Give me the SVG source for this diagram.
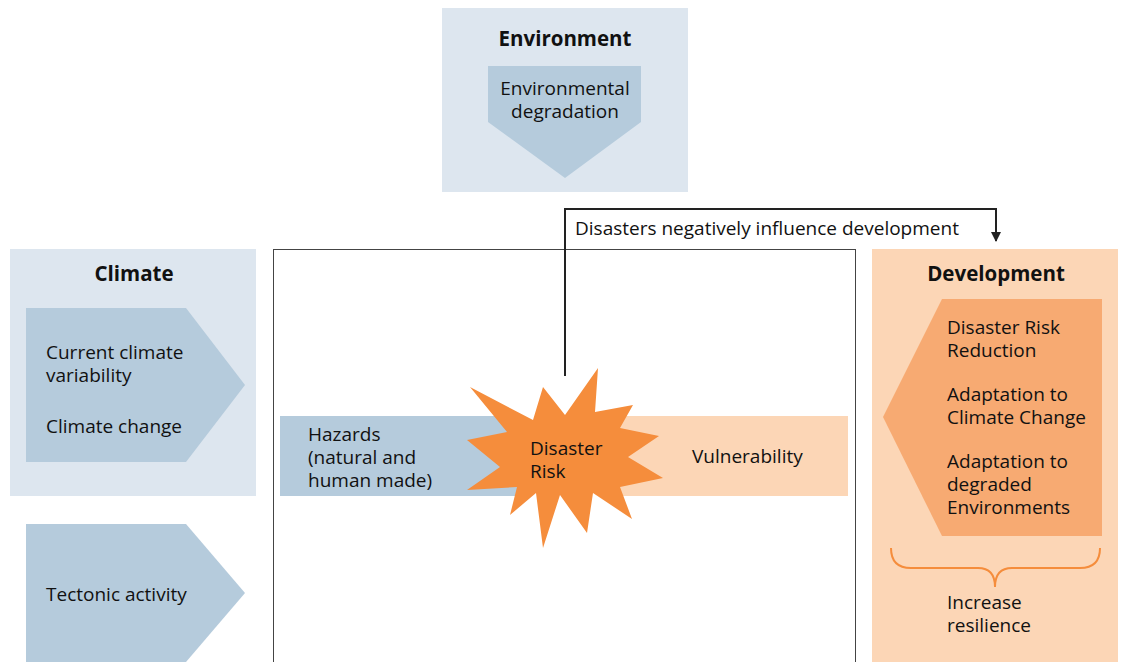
<svg xmlns="http://www.w3.org/2000/svg" width="1123" height="662" viewBox="0 0 1123 662">
<defs>
<style>
text{font-family:"Open Sans","Liberation Sans",sans-serif;font-size:19px;fill:#111}
.h{font-weight:bold;font-size:20.5px}
.lb{fill:#dde6ef}
.mb{fill:#b5cbdc}
.lp{fill:#fcd6b6}
</style>
<marker id="ah" viewBox="0 0 10 10" refX="9" refY="5" markerWidth="10" markerHeight="10" markerUnits="userSpaceOnUse" orient="auto"><path d="M0,0 L10,5 L0,10 z" fill="#222"/></marker>
</defs>
<rect width="1123" height="662" fill="#fff"/>
<g id="environment">
<rect class="lb" x="442" y="8" width="246" height="184"/>
<polygon class="mb" points="488,66 641,66 641,122 565,178 488,122"/>
<text class="h" x="565" y="46" text-anchor="middle">Environment</text>
<text x="565" y="95" text-anchor="middle">Environmental</text>
<text x="565" y="118" text-anchor="middle">degradation</text>
</g>
<g id="climate">
<rect class="lb" x="10" y="249" width="246" height="247"/>
<polygon class="mb" points="26,308 186,308 245,385 186,462 26,462"/>
<text class="h" x="134" y="281" text-anchor="middle">Climate</text>
<text x="46" y="359">Current climate</text>
<text x="46" y="382">variability</text>
<text x="46" y="433">Climate change</text>
</g>
<g id="tectonic">
<polygon class="mb" points="26,524 186,524 245,593 186,662 26,662"/>
<text x="46" y="601">Tectonic activity</text>
</g>
<g id="center">
<rect x="273.5" y="249.5" width="582" height="420" fill="none" stroke="#444" stroke-width="1"/>
</g>
<g id="hazards">
<rect class="mb" x="280" y="416" width="240" height="80"/>
<text x="308" y="441">Hazards</text>
<text x="308" y="464">(natural and</text>
<text x="308" y="487">human made)</text>
</g>
<g id="vulnerability">
<rect class="lp" x="610" y="416" width="238" height="80"/>
<text x="692" y="463">Vulnerability</text>
</g>
<g id="disaster-risk">
<polygon fill="#f58d3c" points="470,387 533,420 543,387 565,415 598,368 595,412 633,405 620,428 659,436 628,457 663,478 620,487 632,519 593,493 587,533 560,495 543,548 536,493 510,515 517,487 467,490 500,467 467,440 507,432"/>
<text x="530" y="455">Disaster</text>
<text x="530" y="478">Risk</text>
</g>
<g id="development">
<rect class="lp" x="872" y="249" width="246" height="413"/>
<polygon fill="#f7aa72" points="942,299 1102,299 1102,536 942,536 883,417"/>
<text class="h" x="996" y="281" text-anchor="middle">Development</text>
<text x="947" y="334">Disaster Risk</text>
<text x="947" y="357">Reduction</text>
<text x="947" y="401">Adaptation to</text>
<text x="947" y="424">Climate Change</text>
<text x="947" y="468">Adaptation to</text>
<text x="947" y="491">degraded</text>
<text x="947" y="514">Environments</text>
<path d="M891,548 Q891,568 911,568 L978,568 Q995,568 995,587 Q995,568 1012,568 L1080,568 Q1100,568 1100,548" fill="none" stroke="#f58d3c" stroke-width="2"/>
<text x="947" y="609">Increase</text>
<text x="947" y="632">resilience</text>
</g>
<g id="connectors">
<path d="M565,376 V209 H996 V241" fill="none" stroke="#222" stroke-width="2" marker-end="url(#ah)"/>
<text x="575" y="235">Disasters negatively influence development</text>
</g>
</svg>
